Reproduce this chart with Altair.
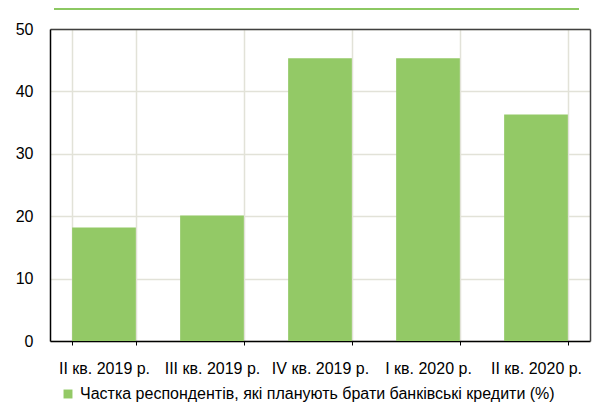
import altair as alt
import pandas as pd

quarters = ["II кв. 2019 р.", "III кв. 2019 р.", "IV кв. 2019 р.", "I кв. 2020 р.", "II кв. 2020 р."]
values = [18.2, 20.1, 45.3, 45.3, 36.3]
series_name = "Частка респондентів, які планують брати банківські кредити (%)"
y_ticks = [0, 10, 20, 30, 40, 50]

df = pd.DataFrame({"q": quarters, "v": values, "s": [series_name] * len(quarters)})

GREEN = "#93C966"
GRID = "#E2E2D8"
FONT = "Liberation Sans Narrow, Liberation Sans, Arial"

xscale = alt.Scale(paddingInner=0.41, paddingOuter=0.205)
yscale = alt.Scale(domain=[0, 50])

bars = alt.Chart(df).mark_bar(color=GREEN).encode(
    x=alt.X("q:N", sort=quarters, scale=xscale,
            axis=alt.Axis(title=None, labelAngle=0, grid=True, tickBand="extent",
                          domainColor="#000000", domainWidth=1.5, tickColor="#000000",
                          tickSize=4, labelFontSize=16, labelPadding=15, labelColor="#000000",
                          labelFont=FONT, gridColor=GRID, gridWidth=1.5)),
    y=alt.Y("v:Q", scale=yscale,
            axis=alt.Axis(title=None, values=y_ticks, ticks=False,
                          domainColor="#000000", domainWidth=1.5, labelFontSize=16,
                          labelPadding=17, labelColor="#000000", labelFont=FONT,
                          gridColor=GRID, gridWidth=1.5)),
    color=alt.Color("s:N", scale=alt.Scale(range=[GREEN]),
                    legend=alt.Legend(title=None, orient="none", legendX=10, legendY=357,
                                      symbolType="square", symbolSize=80, symbolStrokeWidth=0,
                                      labelFontSize=16, labelFont=FONT, labelColor="#000000",
                                      labelLimit=600)),
)

# invisible layer whose top/right axes draw the dark frame of the plot area
frame = alt.Chart(df).mark_bar(opacity=0).encode(
    x=alt.X("q:N", sort=quarters, scale=xscale,
            axis=alt.Axis(orient="top", title=None, labels=False, ticks=False, grid=False,
                          domainColor="#404040", domainWidth=1.5)),
    y=alt.Y("v:Q", scale=yscale,
            axis=alt.Axis(orient="right", title=None, labels=False, ticks=False, grid=False,
                          domainColor="#404040", domainWidth=1.5)),
)

topline = alt.Chart(pd.DataFrame({"t": [1]})).mark_rule(color="#8CC862", strokeWidth=2).encode(
    x=alt.value(4), x2=alt.value(529), y=alt.value(-20)
)

chart = alt.layer(bars, frame, topline).resolve_axis(x="independent", y="independent").properties(
    width=540, height=312,
    autosize=alt.AutoSizeParams(type="none"),
    padding={"left": 42, "top": 21, "right": 11, "bottom": 66},
).configure_view(stroke=None)

chart.save("out.html", embed_options={"renderer": "svg", "actions": False})
